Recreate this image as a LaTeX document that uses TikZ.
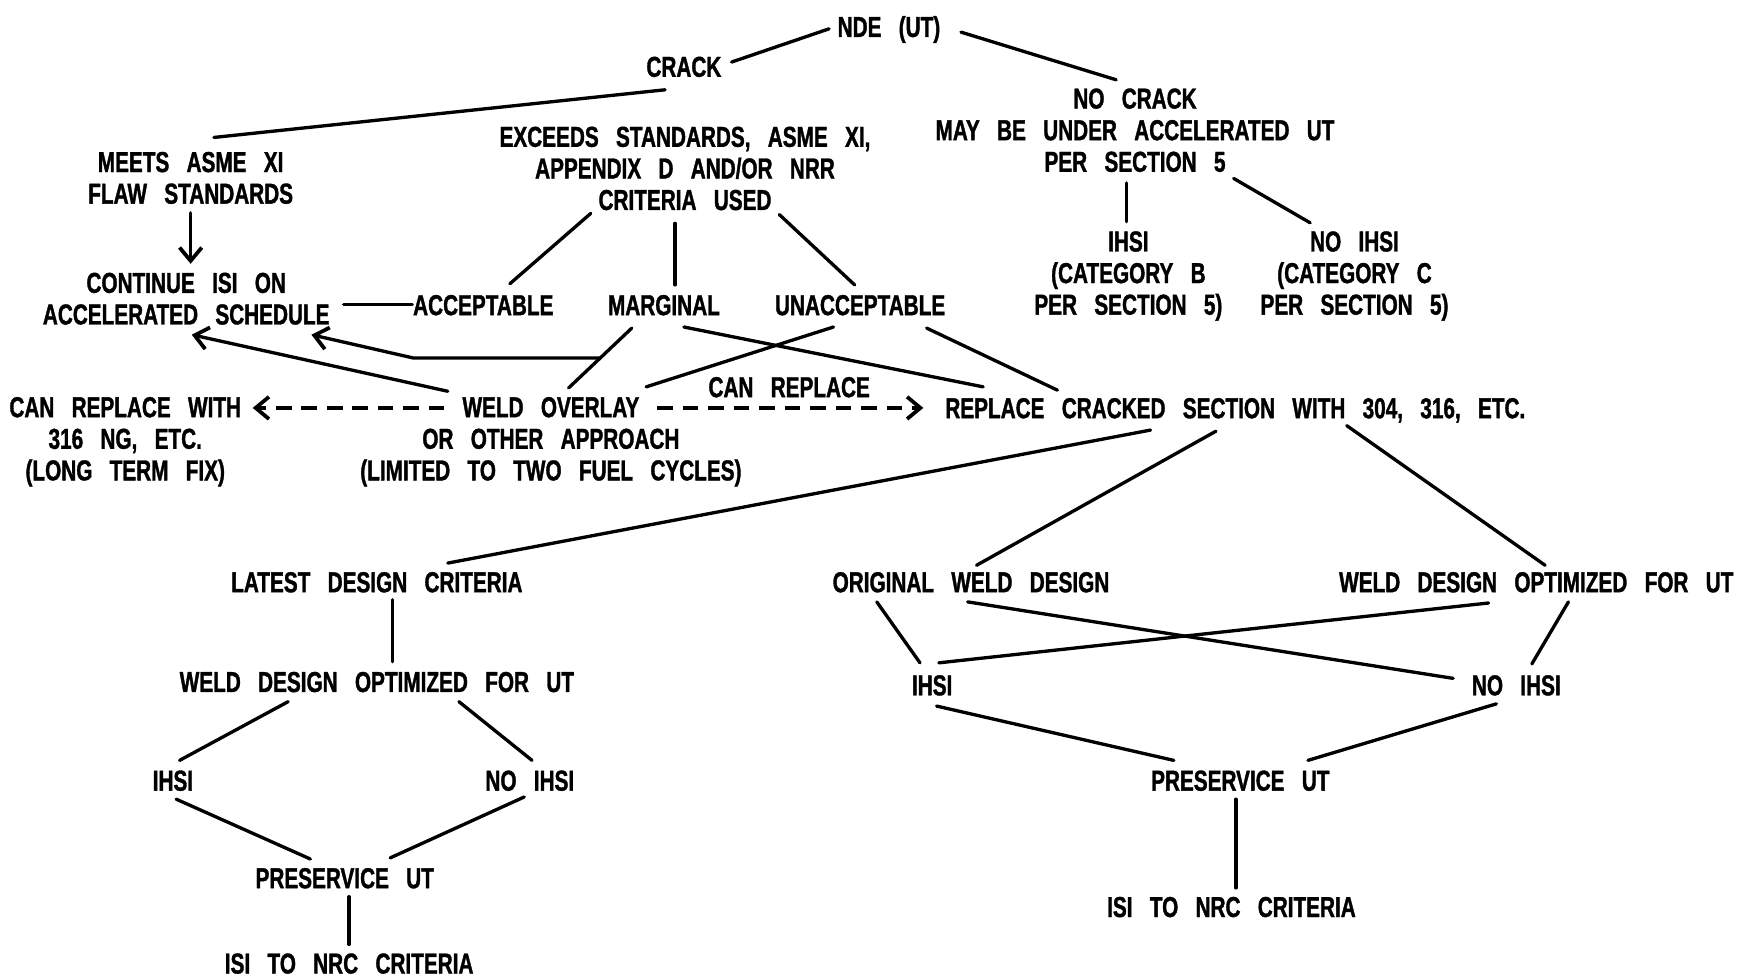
\documentclass[tikz,border=0pt]{standalone}
\usepackage{fontspec}
\newfontfamily\lblfont[FakeStretch=0.72,WordSpace=3,FakeBold=1.2]{Liberation Sans}
\usetikzlibrary{arrows.meta}
\tikzset{
  lbl/.style={font=\lblfont\bfseries\fontsize{26}{28.5}\selectfont, inner sep=0pt, align=center},
  one/.style={lbl, text height=18.6pt, text depth=0pt},
  conn/.style={line width=3pt, line cap=round},
  arr/.style={conn, -{Straight Barb[length=12pt,width=20pt,line width=3.4pt]}},
  dasharr/.style={arr, line cap=butt, dash pattern=on 14pt off 9pt},
}
\begin{document}
\begin{tikzpicture}[x=1pt,y=-1pt]
\useasboundingbox[fill=white] (0,0) rectangle (1568,881);
% nodes
\node[one] (nde) at (802,24) {NDE (UT)};
\node[one] (crack) at (617,60) {CRACK};
\node[lbl] (nocrack) at (1024,117.5) {NO CRACK\\MAY BE UNDER ACCELERATED UT\\PER SECTION 5};
\node[lbl] (meets) at (172,160.5) {MEETS ASME XI\\FLAW STANDARDS};
\node[lbl] (exceeds) at (618,152) {EXCEEDS STANDARDS, ASME XI,\\APPENDIX D AND/OR NRR\\CRITERIA USED};
\node[lbl] (ihsiB) at (1018,249) {IHSI\\(CATEGORY B\\PER SECTION 5)};
\node[lbl] (noihsiC) at (1222,249) {NO IHSI\\(CATEGORY C\\PER SECTION 5)};
\node[lbl] (continue) at (168,269.5) {CONTINUE ISI ON\\ACCELERATED SCHEDULE};
\node[one] (acceptable) at (436,275) {ACCEPTABLE};
\node[one] (marginal) at (599,275) {MARGINAL};
\node[one] (unacc) at (776,275) {UNACCEPTABLE};
\node[lbl] (canrepl) at (113,398.5) {CAN REPLACE WITH\\316 NG, ETC.\\(LONG TERM FIX)};
\node[lbl] (weld) at (497,398.5) {WELD OVERLAY\\OR OTHER APPROACH\\(LIMITED TO TWO FUEL CYCLES)};
\node[one] (canrep) at (712,349) {CAN REPLACE};
\node[one] (replace) at (1114.5,368) {REPLACE CRACKED SECTION WITH 304, 316, ETC.};
\node[one] (latest) at (340,525) {LATEST DESIGN CRITERIA};
\node[one] (origw) at (876,525) {ORIGINAL WELD DESIGN};
\node[one] (optR) at (1386,525) {WELD DESIGN OPTIMIZED FOR UT};
\node[one] (optL) at (340,615) {WELD DESIGN OPTIMIZED FOR UT};
\node[one] (ihsiR) at (841,618) {IHSI};
\node[one] (noihsiR) at (1368,618) {NO IHSI};
\node[one] (ihsiL) at (156,704) {IHSI};
\node[one] (noihsiL) at (478,704) {NO IHSI};
\node[one] (presR) at (1119,704) {PRESERVICE UT};
\node[one] (presL) at (311,792) {PRESERVICE UT};
\node[one] (isiR) at (1111,818) {ISI TO NRC CRITERIA};
\node[one] (isiL) at (315,869) {ISI TO NRC CRITERIA};
% connectors
\draw[conn] ([shift={(-54,2)}]nde.center) -- ([shift={(43,-4)}]crack.center);
\draw[conn] ([shift={(65,5)}]nde.center) -- ([shift={(-17,-45.5)}]nocrack.center);
\draw[conn] ([shift={(-17,21)}]crack.center) -- ([shift={(21,-36.5)}]meets.center);
\draw[conn] ([shift={(-85,40.5)}]exceeds.center) -- ([shift={(24,-19)}]acceptable.center);
\draw[conn] ([shift={(-9,49.5)}]exceeds.center) -- ([shift={(10,-18)}]marginal.center);
\draw[conn] ([shift={(85,41.5)}]exceeds.center) -- ([shift={(-5,-18)}]unacc.center);
\draw[arr] ([shift={(0,31.5)}]meets.center) -- ([shift={(4,-31.5)}]continue.center);
\draw[conn] ([shift={(-64,0)}]acceptable.center) -- ([shift={(142,5.5)}]continue.center);
\draw[arr] ([shift={(-93,-45.5)}]weld.center) -- ([shift={(5,32.5)}]continue.center);
\draw[arr] ([shift={(-58,48)}]marginal.center) -- ++(-168,0) -- ([shift={(113,32.5)}]continue.center);
\draw[conn] ([shift={(-29,21)}]marginal.center) -- ([shift={(16,-48.5)}]weld.center);
\draw[conn] ([shift={(-24,20)}]unacc.center) -- ([shift={(86,-49.5)}]weld.center);
\draw[conn] ([shift={(18,20)}]marginal.center) -- ([shift={(-227.5,-19)}]replace.center);
\draw[conn] ([shift={(60,21)}]unacc.center) -- ([shift={(-160.5,-16)}]replace.center);
\draw[dasharr] ([shift={(-96,-30.5)}]weld.center) -- ([shift={(115,-30.5)}]canrepl.center);
\draw[dasharr] ([shift={(96,-30.5)}]weld.center) -- ([shift={(-281.5,0)}]replace.center);
\draw[conn] ([shift={(-8,47.5)}]nocrack.center) -- ([shift={(-2,-49)}]ihsiB.center);
\draw[conn] ([shift={(89,43.5)}]nocrack.center) -- ([shift={(-40,-48)}]noihsiC.center);
\draw[conn] ([shift={(-76.5,20)}]replace.center) -- ([shift={(64,-17)}]latest.center);
\draw[conn] ([shift={(-17.5,21)}]replace.center) -- ([shift={(5,-15)}]origw.center);
\draw[conn] ([shift={(100.5,16)}]replace.center) -- ([shift={(8,-15)}]optR.center);
\draw[conn] ([shift={(14,16)}]latest.center) -- ([shift={(14,-18)}]optL.center);
\draw[conn] ([shift={(-80,18)}]optL.center) -- ([shift={(6,-18)}]ihsiL.center);
\draw[conn] ([shift={(74,18)}]optL.center) -- ([shift={(2,-18)}]noihsiL.center);
\draw[conn] ([shift={(3,17)}]ihsiL.center) -- ([shift={(-31,-17)}]presL.center);
\draw[conn] ([shift={(-5,15)}]noihsiL.center) -- ([shift={(41,-18)}]presL.center);
\draw[conn] ([shift={(4,17)}]presL.center) -- ([shift={(0,-17)}]isiL.center);
\draw[conn] ([shift={(-85,18)}]origw.center) -- ([shift={(-11,-20)}]ihsiR.center);
\draw[conn] ([shift={(-3,18)}]origw.center) -- ([shift={(-57,-6)}]noihsiR.center);
\draw[conn] ([shift={(-43,19)}]optR.center) -- ([shift={(6,-20)}]ihsiR.center);
\draw[conn] ([shift={(29,18)}]optR.center) -- ([shift={(14,-19)}]noihsiR.center);
\draw[conn] ([shift={(4,19)}]ihsiR.center) -- ([shift={(-60,-18)}]presR.center);
\draw[conn] ([shift={(-18,17)}]noihsiR.center) -- ([shift={(61,-18)}]presR.center);
\draw[conn] ([shift={(-4,17)}]presR.center) -- ([shift={(4,-17)}]isiR.center);
\end{tikzpicture}
\end{document}
